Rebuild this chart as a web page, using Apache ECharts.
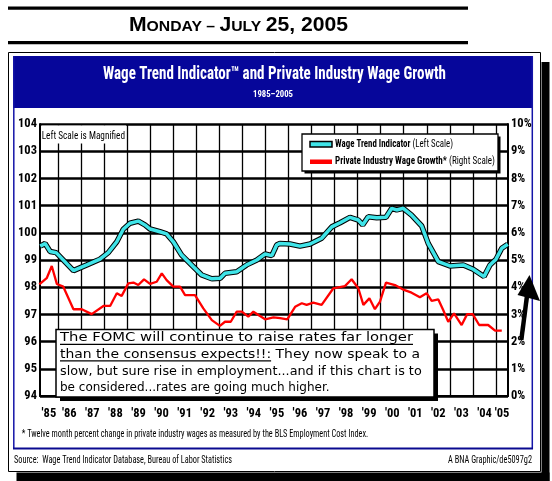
<!DOCTYPE html>
<html>
<head>
<meta charset="utf-8">
<script src="https://cdn.jsdelivr.net/npm/echarts@6/dist/echarts.min.js"></script>
<style>html,body{margin:0;padding:0;background:#fff;}#c{width:552px;height:481px;}</style>
</head>
<body>
<div id="c"></div>
<script>
// ---------- data ----------
const yearLabels = ["'85","'86","'87","'88","'89","'90","'91","'92","'93","'94","'95","'96","'97","'98","'99","'00","'01","'02","'03","'04","'05"];
const leftTicks = [94, 104, 1];   // min, max, step (index scale)
const rightTicks = [0, 10, 1];    // min, max, step (percent)

const wtiYears = [1985.24,1985.45,1985.67,1985.93,1986.17,1986.68,1987.26,1987.83,1988.19,1988.56,1988.84,1989.13,1989.49,1989.78,1990.0,1990.43,1990.72,1991.01,1991.37,1991.88,1992.24,1992.68,1993.04,1993.25,1993.76,1994.19,1994.63,1994.99,1995.28,1995.49,1995.63,1996.07,1996.5,1996.94,1997.44,1997.88,1998.24,1998.67,1999.03,1999.22,1999.46,1999.83,2000.23,2000.48,2000.69,2000.98,2001.34,2001.78,2002.06,2002.5,2003.0,2003.58,2004.01,2004.48,2004.74,2005.0,2005.25,2005.51];
const wtiValues = [99.51,99.61,99.31,99.27,99.06,98.61,98.82,99.03,99.27,99.67,100.13,100.35,100.43,100.29,100.14,100.04,99.96,99.67,99.18,98.75,98.45,98.31,98.33,98.51,98.57,98.82,99.0,99.22,99.16,99.55,99.61,99.59,99.51,99.59,99.8,100.22,100.37,100.57,100.47,100.29,100.59,100.55,100.57,100.9,100.84,100.9,100.65,100.25,99.61,98.94,98.78,98.82,98.66,98.39,98.82,99.03,99.43,99.58];

const eciYears = [1985.2,1985.52,1985.74,1985.96,1986.24,1986.68,1987.04,1987.47,1987.98,1988.27,1988.56,1988.77,1989.06,1989.28,1989.49,1989.74,1990.0,1990.29,1990.51,1990.72,1991.01,1991.3,1991.52,1991.95,1992.31,1992.68,1993.03,1993.25,1993.5,1993.76,1993.98,1994.26,1994.48,1994.99,1995.35,1995.64,1995.95,1996.29,1996.58,1996.79,1997.08,1997.44,1997.95,1998.45,1998.74,1999.03,1999.25,1999.51,1999.75,1999.97,2000.23,2000.62,2001.01,2001.34,2001.7,2001.99,2002.21,2002.5,2002.71,2002.93,2003.18,2003.51,2003.75,2003.99,2004.27,2004.66,2004.96,2005.25];
const eciValues = [4.10,4.33,4.78,4.12,4.02,3.19,3.19,3.01,3.31,3.31,3.78,3.68,4.14,4.17,4.08,4.29,4.12,4.20,4.51,4.26,4.02,4.02,3.71,3.71,3.22,2.79,2.58,2.73,2.73,3.10,3.10,2.92,3.10,2.82,2.89,2.86,2.82,3.28,3.41,3.35,3.43,3.35,3.96,4.04,4.29,3.96,3.35,3.59,3.19,3.47,4.17,4.08,3.90,3.80,3.63,3.78,3.50,3.55,3.16,2.73,3.04,2.61,3.01,3.01,2.61,2.61,2.40,2.40];

const xRange = [1985.23, 2005.52];
const seriesNames = ['Wage Trend Indicator', 'Private Industry Wage Growth*'];
const seriesNotes = [' (Left Scale)', ' (Right Scale)'];

const dateParts = ['M','ONDAY \u2013 ','J','ULY ','25, 2005'];
const titleText = 'Wage Trend Indicator\u2122 and Private Industry Wage Growth';
const subtitleText = '1985\u20132005';
const magnifiedText = 'Left Scale is Magnified';
const footnoteText = '* Twelve month percent change in private industry wages as measured by the BLS Employment Cost Index.';
const sourceText = 'Source:  Wage Trend Indicator Database, Bureau of Labor Statistics';
const creditText = 'A BNA Graphic/de5097g2';
const noteLines = [
  [['The FOMC will continue to raise rates far longer', true]],
  [['than the consensus expects!!:', true], [' They now speak to a', false]],
  [['slow, but sure rise in employment...and if this chart is to', false]],
  [['be considered...rates are going much higher.', false]]
];

// ---------- helpers ----------
const mctx = document.createElement('canvas').getContext('2d');
function tw(t, font){ mctx.font = font; return mctx.measureText(t).width; }
const COND = '"Roboto Condensed", "Liberation Sans", sans-serif';
const SANS = '"Liberation Sans", Arial, sans-serif';
const VERD = '"DejaVu Sans", Verdana, sans-serif';

function fit(parts, x, y, target, opts){
  opts = opts || {};
  const ws = parts.map(p => tw(p.t, p.font));
  const W = ws.reduce((a,b)=>a+b,0);
  const s = target ? target / W : 1;
  let left = x;
  if (opts.align === 'center') left = x - W*s/2;
  if (opts.align === 'right') left = x - W*s;
  const els = [];
  let cum = 0;
  parts.forEach((p,i) => {
    const px = left + cum*s;
    els.push({type:'text', x:px, y:y + (p.dy||0), scaleX:s, z:opts.z||5, silent:true,
      style:{text:p.t, font:p.font, fill:p.fill||opts.fill||'#000', textAlign:'left', textVerticalAlign:'middle'}});
    if (p.u) els.push({type:'line', z:opts.z||5, silent:true,
      shape:{x1:px, y1:y+p.u, x2:px+ws[i]*s, y2:y+p.u}, style:{stroke:'#000', lineWidth:1.3}});
    cum += ws[i];
  });
  return els;
}

// ---------- decorations ----------
const g = [];
g.push({type:'rect', z:1, shape:{x:8, y:6.5, width:460, height:3.3}, style:{fill:'#000'}});
g.push({type:'rect', z:1, shape:{x:8, y:41, width:460, height:3.3}, style:{fill:'#000'}});
const bigF = 'bold 19.5px ' + SANS, smF = 'bold 14.5px ' + SANS;
g.push(...fit([
  {t:dateParts[0], font:bigF},{t:dateParts[1], font:smF, dy:2},{t:dateParts[2], font:bigF},
  {t:dateParts[3], font:smF, dy:2},{t:dateParts[4], font:bigF}], 129, 25.3, 219));
g.push({type:'rect', z:0, shape:{x:541.5, y:62, width:8, height:419}, style:{fill:'#000'}});
g.push({type:'rect', z:0, shape:{x:16.5, y:472.5, width:533, height:8.5}, style:{fill:'#000'}});
g.push({type:'rect', z:1, shape:{x:8.5, y:52.5, width:532, height:419}, style:{fill:'none', stroke:'#000', lineWidth:1}});
g.push({type:'rect', z:1, shape:{x:13, y:56, width:520, height:52}, style:{fill:'#06069a'}});
g.push({type:'line', z:1, shape:{x1:13.8, y1:56, x2:13.8, y2:449}, style:{stroke:'#1414a8', lineWidth:1.5}});
g.push({type:'line', z:1, shape:{x1:532.3, y1:56, x2:532.3, y2:449}, style:{stroke:'#1414a8', lineWidth:1.5}});
g.push({type:'line', z:1, shape:{x1:13, y1:448.5, x2:533, y2:448.5}, style:{stroke:'#0a0a90', lineWidth:2}});
g.push(...fit([{t:titleText, font:'bold 18px ' + COND}], 274.5, 74.8, 343, {align:'center', fill:'#fff'}));
g.push(...fit([{t:subtitleText, font:'bold 8.5px ' + COND}], 273, 95.3, 40, {align:'center', fill:'#fff'}));
g.push({type:'rect', z:1, shape:{x:41.5, y:125.5, width:84.5, height:18}, style:{fill:'#fff'}});
g.push(...fit([{t:magnifiedText, font:'11px ' + COND}], 41.7, 136.7, 83.3, {z:1}));
g.push({type:'rect', z:10, shape:{x:304.5, y:136.5, width:196, height:37}, style:{fill:'#000'}});
g.push({type:'rect', z:10, shape:{x:302, y:134, width:196, height:37}, style:{fill:'#fff', stroke:'#000', lineWidth:1.3}});
g.push({type:'rect', z:10, shape:{x:310, y:141.5, width:22, height:5.5}, style:{fill:'#3fe4e8', stroke:'#000', lineWidth:1.5}});
g.push({type:'rect', z:10, shape:{x:310, y:159.5, width:22, height:4.5}, style:{fill:'#ff0000'}});
g.push(...fit([{t:seriesNames[0], font:'bold 11px ' + COND},{t:seriesNotes[0], font:'11px ' + COND}], 335, 144.3, 118, {z:10}));
g.push(...fit([{t:seriesNames[1], font:'bold 11px ' + COND},{t:seriesNotes[1], font:'11px ' + COND}], 335, 161.7, 160, {z:10}));
g.push({type:'rect', z:10, shape:{x:60, y:333.5, width:378, height:67.5}, style:{fill:'#000'}});
g.push({type:'rect', z:10, shape:{x:56, y:329.5, width:378, height:67.5}, style:{fill:'#fff', stroke:'#000', lineWidth:1.5}});
const noteY = [338.3, 354.8, 371.6, 388.3];
const noteW = [353, 360, 361.7, null];
noteLines.forEach((ln, i) => {
  g.push(...fit(ln.map(p => ({t:p[0], font:'12px ' + VERD, u: p[1] ? 6 : 0})), 60, noteY[i], noteW[i], {z:11}));
});
g.push(...fit([{t:footnoteText, font:'10px ' + COND}], 21.7, 434, 346.6));
g.push(...fit([{t:sourceText, font:'10px ' + COND}], 14, 460, 218));
g.push(...fit([{t:creditText, font:'10px ' + COND}], 532, 460, 84, {align:'right'}));
g.push({type:'line', z:12, shape:{x1:521.3, y1:340, x2:527.5, y2:292}, style:{stroke:'#000', lineWidth:4.5}});
g.push({type:'polygon', z:12, shape:{points:[[529.5,275],[517.5,295],[540,301]]}, style:{fill:'#000'}});

// ---------- chart ----------
const labelPos = yearLabels.map((l, i) => {
  const y0 = Math.max(1985 + i, xRange[0]), y1 = Math.min(1986 + i, xRange[1]);
  return (y0 + y1) / 2;
});
const yearBounds = yearLabels.slice(1).map((l, i) => 1986 + i);
const axisFont = {fontFamily: COND, fontWeight:'bold', fontSize:12.5, color:'#000'};

const wtiData = wtiYears.map((x, i) => [x, wtiValues[i]]);
const eciData = eciYears.map((x, i) => [x, eciValues[i]]);

const option = {
  animation: false,
  backgroundColor: '#fff',
  grid: {left:40, right:44, top:124, bottom:85},
  xAxis: {
    type:'value', min:xRange[0], max:xRange[1],
    axisLine:{show:true, onZero:false, lineStyle:{color:'#000', width:2}},
    axisTick:{show:false, customValues: yearBounds},
    splitLine:{show:true, lineStyle:{color:'#000', width:1.3}},
    axisLabel:Object.assign({customValues: labelPos, margin:11, showMinLabel:true, showMaxLabel:true, hideOverlap:false,
      formatter: v => yearLabels[Math.floor(v) - 1985]}, axisFont)
  },
  yAxis: [
    {type:'value', position:'left', min:leftTicks[0], max:leftTicks[1], interval:leftTicks[2],
     axisLine:{show:true, lineStyle:{color:'#000', width:2}}, axisTick:{show:false},
     splitLine:{show:true, lineStyle:{color:'#000', width:2.5}},
     axisLabel:Object.assign({margin:3}, axisFont)},
    {type:'value', position:'right', min:rightTicks[0], max:rightTicks[1], interval:rightTicks[2],
     axisLine:{show:true, lineStyle:{color:'#000', width:2}}, axisTick:{show:false},
     splitLine:{show:false},
     axisLabel:Object.assign({margin:3, formatter:'{value}%'}, axisFont)}
  ],
  series: [
    {name:'outline', type:'line', yAxisIndex:0, data:wtiData, showSymbol:false, z:2,
     lineStyle:{color:'#000', width:5.5}, itemStyle:{color:'#000'}},
    {name:seriesNames[0], type:'line', yAxisIndex:0, data:wtiData, showSymbol:false, z:3,
     lineStyle:{color:'#3fe4e8', width:3.5}, itemStyle:{color:'#3fe4e8'}},
    {name:seriesNames[1], type:'line', yAxisIndex:1, data:eciData, showSymbol:false, z:3,
     lineStyle:{color:'#ff0000', width:2.3}, itemStyle:{color:'#ff0000'}}
  ],
  graphic: {elements: g}
};
const chart = echarts.init(document.getElementById('c'), null, {renderer:'canvas'});
chart.setOption(option);
</script>
</body>
</html>
